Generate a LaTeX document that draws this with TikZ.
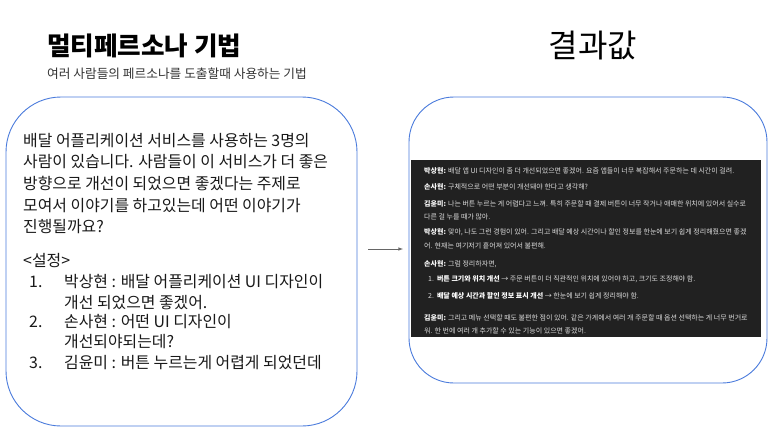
\documentclass[tikz,border=0pt]{standalone}
\usepackage{fontspec}
\setmainfont{Noto Sans CJK KR}
\definecolor{boxblue}{HTML}{4A7BDC}
\definecolor{panelgray}{HTML}{212121}
\definecolor{paneltext}{HTML}{DCDCDC}
\definecolor{arrowgray}{HTML}{666666}
\newcommand{\nm}[1]{\textbf{\color{white}#1}}
\begin{document}
\begin{tikzpicture}[
		x=1pt,y=-1pt,
		titletext/.style={inner sep=0pt,anchor=west,font=\fontsize{25.6}{30}\selectfont\bfseries},
		subtext/.style={inner sep=0pt,anchor=west,font=\fontsize{12.7}{14}\selectfont,text=black!80},
		resulttext/.style={inner sep=0pt,font=\fontsize{32}{36}\selectfont},
		promptline/.style={inner sep=0pt,anchor=west,text height=14pt,text depth=3pt,font=\fontsize{15.9}{20}\selectfont,text=black!90},
		panelline/.style={inner sep=0pt,anchor=west,text height=6pt,text depth=1.5pt,font=\fontsize{7}{8}\selectfont,text=paneltext},
		roundbox/.style={draw=boxblue,line width=0.9pt,fill=white,rounded corners=#1},
		]
		\useasboundingbox (0,0) rectangle (773,431);
		\node[titletext] (title) at (47,46) {멀티페르소나 기법};
		\node[subtext] (subtitle) at (47,74) {여러 사람들의 페르소나를 도출할때 사용하는 기법};
		\node[resulttext] (result) at (593,46) {결과값};

		\draw[roundbox=55pt] (6,97) rectangle (357,426);
		\draw[roundbox=45pt] (409,97) rectangle (767,383);
		\fill[panelgray] (411,160) rectangle (761,337);

		\foreach \px/\py/\ptext in {
			23/141/{배달 어플리케이션 서비스를 사용하는 3명의},
			23/162/{사람이 있습니다. 사람들이 이 서비스가 더 좋은},
			23/184/{방향으로 개선이 되었으면 좋겠다는 주제로},
			23/206/{모여서 이야기를 하고있는데 어떤 이야기가},
			23/227/{진행될까요?},
			23/261/{<설정>},
			29/282/{1.},
			64/282/{박상현 : 배달 어플리케이션 UI 디자인이},
			64/303/{개선 되었으면 좋겠어.},
			29/322/{2.},
			64/322/{손사현 : 어떤 UI 디자인이},
			64/342/{개선되야되는데?},
			29/363/{3.},
			64/363/{김윤미 : 버튼 누르는게 어렵게 되었던데}
		}{
			\node[promptline] at (\px,\py) {\ptext};
		}

		\foreach \px/\py/\ptext in {
			424/171/{\nm{박상현:} 배달 앱 UI 디자인이 좀 더 개선되었으면 좋겠어. 요즘 앱들이 너무 복잡해서 주문하는 데 시간이 걸려.},
			424/187/{\nm{손사현:} 구체적으로 어떤 부분이 개선돼야 한다고 생각해?},
			424/204/{\nm{김윤미:} 나는 버튼 누르는 게 어렵다고 느껴. 특히 주문할 때 결제 버튼이 너무 작거나 애매한 위치에 있어서 실수로},
			424/217/{다른 걸 누를 때가 많아.},
			424/232/{\nm{박상현:} 맞아, 나도 그런 경험이 있어. 그리고 배달 예상 시간이나 할인 정보를 한눈에 보기 쉽게 정리해줬으면 좋겠},
			424/246/{어. 현재는 여기저기 흩어져 있어서 불편해.},
			424/264/{\nm{손사현:} 그럼 정리하자면,},
			428/279/{1.\hspace{3pt}\nm{버튼 크기와 위치 개선} → 주문 버튼이 더 직관적인 위치에 있어야 하고, 크기도 조정해야 함.},
			428/296/{2.\hspace{3pt}\nm{배달 예상 시간과 할인 정보 표시 개선} → 한눈에 보기 쉽게 정리해야 함.},
			424/318/{\nm{김윤미:} 그리고 메뉴 선택할 때도 불편한 점이 있어. 같은 가게에서 여러 개 주문할 때 옵션 선택하는 게 너무 번거로},
			424/331/{워. 한 번에 여러 개 추가할 수 있는 기능이 있으면 좋겠어.}
		}{
			\node[panelline] at (\px,\py) {\ptext};
		}

		\coordinate (arrowstart) at (368,249);
		\coordinate (arrowend) at (403,249);
		\draw[arrowgray,line width=0.6pt,-latex] (arrowstart) -- (arrowend);
	\end{tikzpicture}
\end{document}
